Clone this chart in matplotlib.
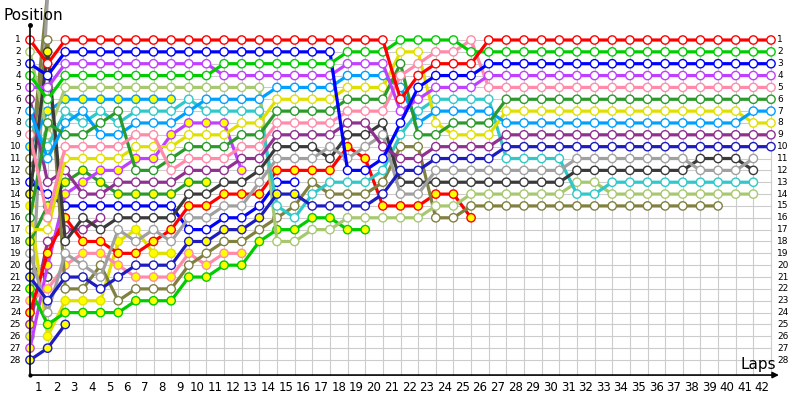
import matplotlib
matplotlib.use("Agg")
import matplotlib.pyplot as plt

# Position of every car after each lap (index 0 = starting grid).
# -3 means the line leaves the top of the chart.
red_1 = [1, 3, 1, 1, 1, 1, 1, 1, 1, 1,
         1, 1, 1, 1, 1, 1, 1, 1, 1, 1,
         1, 6, 4, 3, 3, 3, 1, 1, 1, 1,
         1, 1, 1, 1, 1, 1, 1, 1, 1, 1,
         1, 1, 1]
red_2 = [24, 19, 16, 18, 18, 19, 19, 18, 17, 15,
         15, 14, 14, 14, 12, 12, 12, 12, 10, 11,
         15, 15, 15, 14, 14, 16]
blue_1 = [3, 4, 2, 2, 2, 2, 2, 2, 2, 2,
          2, 2, 2, 2, 2, 2, 2, 2, 12, 12,
          11, 8, 5, 4, 4, 4, 3, 3, 3, 3,
          3, 3, 3, 3, 3, 3, 3, 3, 3, 3,
          3, 3, 3]
blue_2 = [13, 14, 15, 15, 15, 15, 15, 15, 15, 17,
          17, 16, 16, 15, 13, 13]
navy_1 = [21, 23, 21, 21, 22, 21, 20, 20, 20, 18,
          18, 17, 17, 16, 14, 14, 15, 15, 15, 15,
          14, 12, 12, 11, 11, 11, 11, 10, 10, 10,
          10, 10, 10, 10, 10, 10, 10, 10, 10, 10,
          10, 10, 10]
navy_2 = [28, 27, 25]
green_1 = [4, 6, 4, 4, 4, 4, 4, 4, 4, 4,
           4, 3, 3, 3, 3, 3, 3, 3, 2, 2,
           2, 1, 1, 1, 1, 2, 2, 2, 2, 2,
           2, 2, 2, 2, 2, 2, 2, 2, 2, 2,
           2, 2, 2]
green_2 = [22, 25, 24, 24, 24, 24, 23, 23, 23, 21,
           21, 20, 20, 18, 17, 17, 16, 16, 17, 17]
dgreen_1 = [16, 8, 9, 9, 8, 7, 12, 12, 11, 10,
            10, 10, 9, 9, 7, 7, 7, 7, 6, 6,
            6, 3, 9, 9, 8, 8, 8, 6, 6, 6,
            6, 6, 6, 6, 6, 6, 6, 6, 6, 6,
            6, 6, 6]
dgreen_2 = [18, 15, 13, 12, 13, 14, 14, 14, 14, 13, 13]
magenta_1 = [5, 5, 3, 3, 3, 3, 3, 3, 3, 3,
             3, 4, 4, 4, 4, 4, 4, 4, 3, 3,
             3, 7, 6, 5, 5, 5, 4, 4, 4, 4,
             4, 4, 4, 4, 4, 4, 4, 4, 4, 4,
             4, 4, 4]
magenta_2 = [27, 20, 14, 13, 12, 12, 11, 11, 9, 8, 8, 8, 12]
pink_1 = [9, 16, 10, 10, 10, 10, 9, 9, 12, 11,
          11, 11, 10, 10, 8, 8, 8, 8, 7, 7,
          7, 4, 3, 2, 2, 1, 5, 5, 5, 5,
          5, 5, 5, 5, 5, 5, 5, 5, 5, 5,
          5, 5, 5]
pink_2 = [23, 22, 20, 19, 19, 20, 21, 21, 21, 19, 20, 19, 19]
lblue_1 = [10, 7, 6, 6, 6, 6, 6, 6, 6]
lblue_2 = [7, 11, 8, 7, 9, 9, 8, 8, 8, 7,
           6, 6, 6, 6, 5, 5, 5, 5, 4, 4,
           4, 5, 8, 7, 7, 7, 7, 8, 8, 8,
           8, 8, 8, 8, 8, 8, 8, 8, 8, 8,
           8, 7, 7]
cyan_1 = [8, 10, 7, 8, 7, 8, 7, 7, 7, 6,
          7, 7, 7, 7, 15, 16, 14, 13, 13, 13,
          12, 9, 7, 6, 6, 6, 6, 11, 11, 11,
          11, 14, 14, 13, 13, 13, 13, 13, 13, 13,
          13, 13]
yellow_1 = [17, 17, 11, 11, 11, 11, 10, 10, 10, 9,
            9, 9, 8, 8, 6, 6, 6, 6, 5, 5,
            5, 2, 2, 8, 9, 9, 9, 7, 7, 7,
            7, 7, 7, 7, 7, 7, 7, 7, 7, 7,
            7, 8, 8]
yellow_2 = [15, 26, 23, 23, 23, 18, 17, 19, 19]
dpurple_1 = [6, 13, 12, 14, 14, 13, 13, 13, 13, 12,
             12, 12, 11, 11, 9, 9, 9, 9, 8, 8,
             10, 11, 11, 10, 10, 10, 10, 9, 9, 9,
             9, 9, 9, 9, 9, 9, 9, 9, 9, 9,
             9, 9, 9]
dpurple_2 = [25, 18, 17, 17, 16]
gray_1 = [19, 24, 19, 20, 21, 17, 18, 17, 18, 16,
          16, 15, 15, 13, 11, 11, 11, 10, 11, 10,
          9, 14, 14, 12, 12, 12, 12, 12, 12, 12,
          12, 11, 11, 11, 11, 11, 11, 11, 12, 12,
          12, 11]
gray_2 = [26, -3]
dgray_1 = [14, 2, 18, 16, 17, 16, 16, 16, 16, 14,
           14, 13, 13, 12, 10, 10, 10, 11, 9, 9,
           8, 13, 13, 13, 13, 13, 13, 13, 13, 13,
           13, 12, 12, 12, 12, 12, 12, 12, 11, 11,
           11, 12]
dgray_2 = [20, 21]
lgreen_1 = [2, 9, 5, 5, 5, 5, 5, 5, 5, 5,
            5, 5, 5, 5, 18, 18, 17, 17, 16, 16,
            16, 16, 16, 15, 15, 14, 14, 14, 14, 14,
            14, 13, 13, 14, 14, 14, 14, 14, 14, 14,
            14, 14]
olive_1 = [11, 1, 22, 22, 20, 23, 22, 22, 22, 20,
           19, 18, 18, 17, 16, 15, 13, 14, 14, 14,
           13, 10, 10, 16, 16, 15, 15, 15, 15, 15,
           15, 15, 15, 15, 15, 15, 15, 15, 15, 15]
olive_2 = [12, -3]

# laps drawn with a yellow marker (True = every lap)
yellow_laps = {
    "red_2": True, "navy_2": True, "magenta_2": True, "pink_2": True,
    "green_2": True, "yellow_2": True, "dgreen_2": True, "lblue_1": True,
    "dgray_1": [0, 1], "navy_1": [0, 9, 10, 11, 12, 13, 14, 15],
    "dpurple_2": [0], "gray_2": [0],
}

colors = {
    "red": "#ff0000", "blue": "#0000ff", "navy": "#1c1cc0", "green": "#00cc00",
    "dgreen": "#2a9a2a", "magenta": "#c040ff", "pink": "#ff8aaa",
    "lblue": "#00a0ff", "cyan": "#30c8c8", "yellow": "#e0e000",
    "dpurple": "#903090", "gray": "#a0a0a0", "dgray": "#3a3a3a",
    "lgreen": "#a8c870", "olive": "#808040",
}

# retirements first, then finishers from last to the winner (winner on top)
drivers = [
    ("olive_2", olive_2), ("gray_2", gray_2), ("dgray_2", dgray_2),
    ("navy_2", navy_2), ("dpurple_2", dpurple_2), ("yellow_2", yellow_2),
    ("lblue_1", lblue_1), ("dgreen_2", dgreen_2), ("magenta_2", magenta_2),
    ("pink_2", pink_2), ("blue_2", blue_2), ("green_2", green_2),
    ("red_2", red_2), ("olive_1", olive_1), ("lgreen_1", lgreen_1),
    ("cyan_1", cyan_1), ("dgray_1", dgray_1), ("gray_1", gray_1),
    ("navy_1", navy_1), ("dpurple_1", dpurple_1), ("yellow_1", yellow_1),
    ("lblue_2", lblue_2), ("dgreen_1", dgreen_1), ("pink_1", pink_1),
    ("magenta_1", magenta_1), ("blue_1", blue_1), ("green_1", green_1),
    ("red_1", red_1),
]

N_LAPS = 42
N_POS = 28

# pixel layout of the original: lap 0 at x=30, 17.64 px per lap; P1 at y=40, 11.85 px per place
X0, DX = 30, 17.643
Y0, DY = 40, 11.852

fig = plt.figure(figsize=(8, 4), dpi=100)
ax = fig.add_axes([0, 0, 1, 1])
ax.set_xlim(-X0 / DX, (800 - X0) / DX)
ax.set_ylim(1 + (400 - Y0) / DY, 1 - Y0 / DY)
ax.axis("off")

axis_y = 29.27
grid_c = "#cccccc"
for lap in range(1, N_LAPS + 1):
    ax.plot([lap, lap], [1, axis_y], color=grid_c, lw=0.8, zorder=1)
for p in range(1, N_POS + 1):
    ax.plot([0, N_LAPS], [p, p], color=grid_c, lw=0.8, zorder=1)

z = 2
for name, pos in drivers:
    col = colors[name.split("_")[0]]
    laps = list(range(len(pos)))
    ax.plot(laps, pos, color=col, lw=2.3, solid_joinstyle="round",
            solid_capstyle="round", zorder=z)
    yl = yellow_laps.get(name, [])
    faces = ["#ffff00" if (yl is True or i in yl) else "white" for i in laps]
    ax.scatter(laps, pos, s=36, facecolors=faces, edgecolors=col,
               linewidths=1.0, zorder=z + 0.5)
    z += 1

# axes with arrow
ax.plot([0, 0], [axis_y, -0.27], color="black", lw=1.2, zorder=100)
ax.plot([0], [-0.27], "o", color="black", ms=2.5, zorder=100)
ax.plot([0], [axis_y], "o", color="black", ms=2.0, zorder=100)
ax.annotate("", xy=(42.45, axis_y), xytext=(0, axis_y),
            arrowprops=dict(arrowstyle="-|>", color="black", lw=1.2,
                            mutation_scale=9, shrinkA=0, shrinkB=0),
            zorder=100)

for p in range(1, N_POS + 1):
    ax.text(-0.5, p, str(p), ha="right", va="center", fontsize=6.5)
    ax.text(42.35, p, str(p), ha="left", va="center", fontsize=6.5)
for k in range(1, N_LAPS + 1):
    ax.text(k - 0.5, 30.36, str(k), ha="center", va="center", fontsize=8.5)

ax.text(-1.5, -1.1, "Position", ha="left", va="center", fontsize=11)
ax.text(41.3, 28.4, "Laps", ha="center", va="center", fontsize=11)

fig.savefig("out.png", dpi=100)
